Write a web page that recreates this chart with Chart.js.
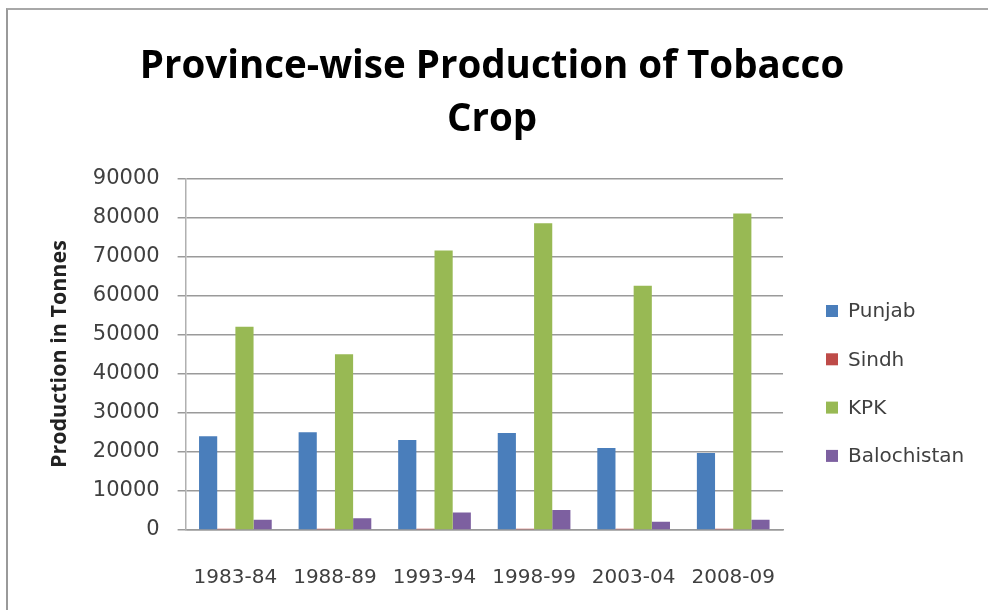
<!DOCTYPE html>
<html>
<head>
<meta charset="utf-8">
<script src="https://cdn.jsdelivr.net/npm/chart.js@4.4.0/dist/chart.umd.min.js"></script>
<style>
  html, body { margin: 0; padding: 0; background: #fff; }
  #wrap { position: absolute; left: 0; top: 0; width: 988px; height: 610px; overflow: hidden; }
  #frame { position: absolute; left: 6px; top: 8px; width: 990px; height: 610px;
           border-left: 2px solid #9a9a9a; border-top: 2px solid #a8a8a8; }
  canvas { position: absolute; left: 0; top: 0; }
</style>
</head>
<body>
<div id="wrap">
  <div id="frame"></div>
  <canvas id="c" width="988" height="610"></canvas>
</div>
<script>
const categories = ['1983-84', '1988-89', '1993-94', '1998-99', '2003-04', '2008-09'];
const punjab      = [24000, 25000, 23000, 24800, 21000, 19700];
const sindh       = [300, 300, 300, 300, 300, 300];
const kpk         = [52000, 45000, 71500, 78500, 62500, 81000];
const balochistan = [2600, 3000, 4500, 5100, 2100, 2600];
const seriesNames = ['Punjab', 'Sindh', 'KPK', 'Balochistan'];
const yTicksMax = 90000;
const yTickStep = 10000;

const colors = ['#4a7ebb', '#be4b48', '#98b954', '#7d60a0'];

// Right-side legend drawn from the chart's own datasets
const sideLegend = {
  id: 'sideLegend',
  afterDraw(chart) {
    const c = chart.ctx;
    const x0 = chart.chartArea.right + 43;
    const yStart = 311, step = 48.3;
    c.save();
    c.font = '20px "DejaVu Sans"';
    c.textBaseline = 'middle';
    c.textAlign = 'left';
    chart.data.datasets.forEach((ds, i) => {
      const y = yStart + i * step;
      c.fillStyle = ds.backgroundColor;
      c.fillRect(x0, y - 6, 12, 12);
      c.fillStyle = '#404040';
      c.fillText(ds.label, x0 + 22, y + 1);
    });
    c.restore();
  }
};

const ctx = document.getElementById('c').getContext('2d');
new Chart(ctx, {
  type: 'bar',
  data: {
    labels: categories,
    datasets: [punjab, sindh, kpk, balochistan].map((d, i) => ({
      label: seriesNames[i],
      data: d,
      backgroundColor: colors[i],
      borderWidth: 0,
      categoryPercentage: 0.73,
      barPercentage: 1.0
    }))
  },
  plugins: [sideLegend],
  options: {
    responsive: false,
    maintainAspectRatio: false,
    animation: false,
    devicePixelRatio: 1,
    layout: { padding: { left: 4, right: 8, top: 40, bottom: 0 } },
    plugins: {
      title: {
        display: true,
        text: ['Province-wise Production of Tobacco', 'Crop'],
        color: '#000',
        font: { family: 'Open Sans', size: 38.5, weight: 'bold', lineHeight: 1.38 },
        padding: { top: 0, bottom: 32 }
      },
      legend: { display: false },
      tooltip: { enabled: false }
    },
    scales: {
      x: {
        grid: { display: false, drawTicks: false },
        border: { display: true, color: '#9a9a9a', width: 1.5 },
        ticks: { color: '#404040', font: { family: 'DejaVu Sans', size: 20 }, padding: 36, maxRotation: 0 },
        afterFit: (s) => { s.height = 80; }
      },
      y: {
        min: 0, max: yTicksMax,
        grid: { color: '#9a9a9a', lineWidth: 1.5, tickLength: 8 },
        border: { display: true, color: '#b0b0b0', width: 1.5 },
        ticks: {
          stepSize: yTickStep, color: '#404040',
          font: { family: 'DejaVu Sans', size: 21 }, padding: 18,
          callback: (v) => String(v)
        },
        title: {
          display: true,
          text: 'Production in Tonnes',
          color: '#222',
          font: { family: 'Open Sans', size: 21.5, weight: 'bold' },
          padding: { top: 43, bottom: 2 }
        }
      },
      reserve: {
        type: 'linear',
        position: 'right',
        display: true,
        grid: { display: false, drawTicks: false },
        border: { display: false },
        ticks: { display: false },
        afterFit: (s) => { s.width = 197; }
      }
    }
  }
});
</script>
</body>
</html>
